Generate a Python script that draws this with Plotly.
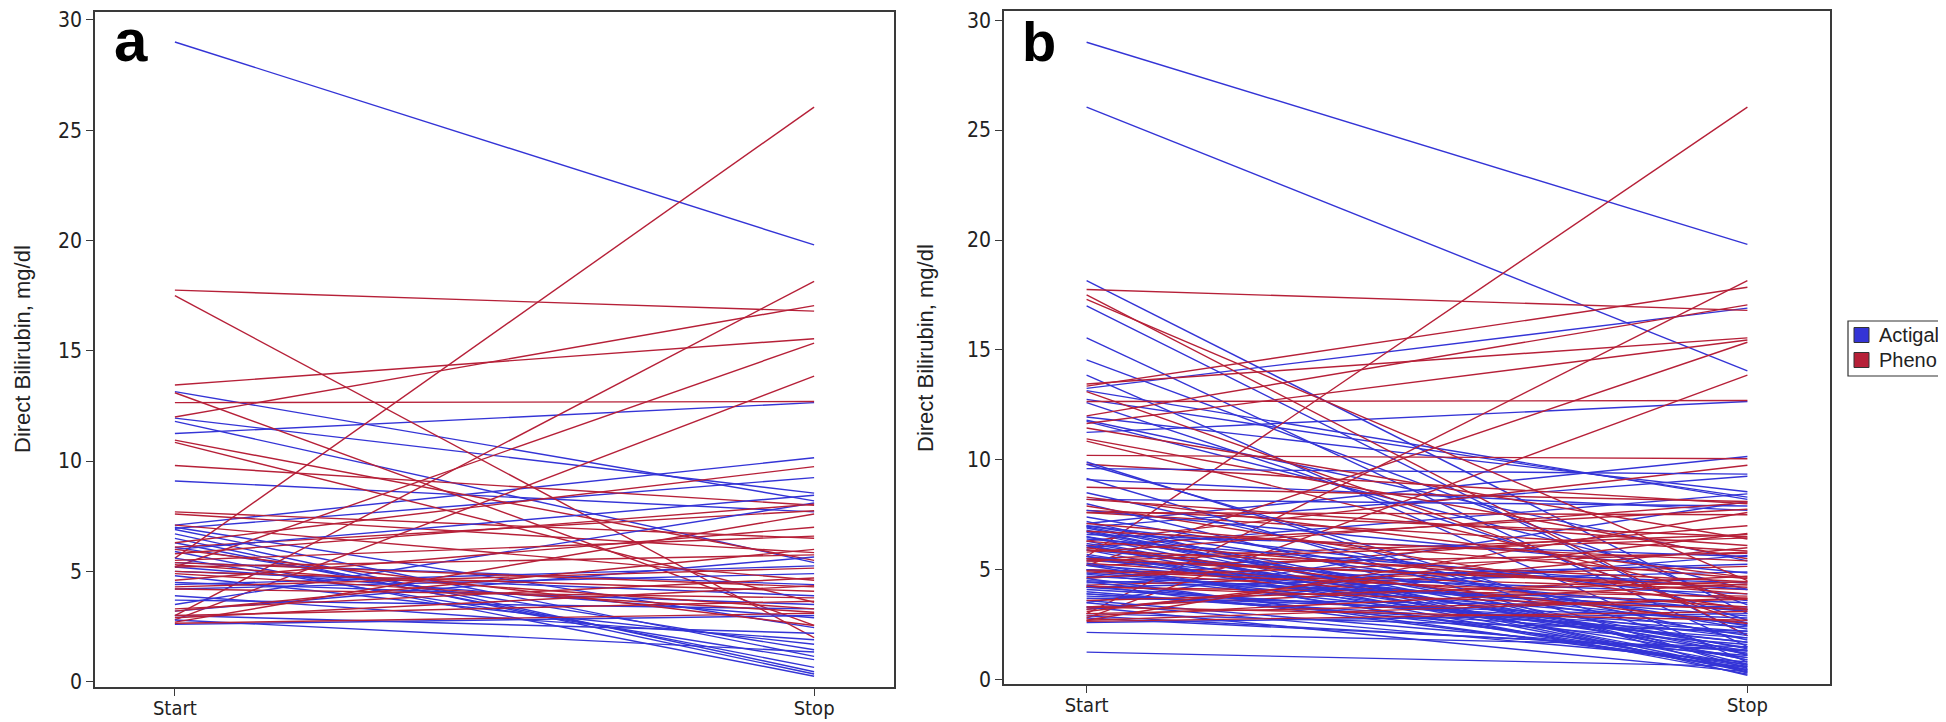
import plotly.graph_objects as go

# ---------------- data ----------------
x_categories = ["Start", "Stop"]
y_ticks = [0, 5, 10, 15, 20, 25, 30]
groups = ["Actigall", "Pheno"]

# Panel a
a_actigall_start = [29.0, 13.15, 11.95, 11.8, 11.25, 9.1, 7.1, 6.95, 7.0, 6.9, 6.7, 6.5, 6.3, 6.1,
                    5.9, 5.6, 5.4, 5.2, 5.0, 4.8, 4.5, 4.4, 4.2, 3.9, 3.7, 3.5, 3.2, 3.0, 2.8, 2.6, 6.0]
a_actigall_stop = [19.8, 8.2, 8.55, 5.4, 12.65, 7.7, 10.15, 9.25, 2.45, 1.15, 0.45, 0.35, 0.65, 1.45,
                   0.25, 1.0, 4.4, 2.9, 3.9, 1.7, 3.5, 5.25, 4.9, 1.9, 3.3, 8.1, 5.65, 2.2, 1.35, 3.0, 8.45]
a_pheno_start = [17.75, 17.5, 5.6, 13.45, 12.0, 12.65, 13.1, 3.0, 5.2, 2.8, 10.95, 10.85, 9.8, 7.7,
                 7.6, 6.3, 6.1, 5.5, 5.4, 5.3, 5.2, 5.0, 4.9, 4.6, 4.3, 4.2, 3.3, 3.2, 3.0, 2.9,
                 2.7, 2.65, 6.0, 5.8, 7.1]
a_pheno_stop = [16.8, 2.0, 26.05, 15.55, 17.05, 12.7, 2.55, 18.15, 15.35, 13.85, 5.5, 3.6, 8.0, 6.5,
                5.85, 9.75, 7.75, 6.6, 4.3, 3.3, 5.75, 4.1, 3.15, 7.0, 5.15, 3.8, 4.7, 6.0, 3.65, 4.35,
                7.6, 3.1, 2.55, 8.05, 4.6]

# Panel b = panel a subjects plus these additional subjects
b_extra_actigall_start = [26.05, 18.15, 17.0, 15.55, 14.55, 13.85, 13.25, 12.75, 12.6, 11.75, 9.9, 9.8,
                          9.6, 9.15, 8.5, 8.0, 7.4, 7.2, 6.95, 6.75, 6.5, 6.1, 5.7, 5.2, 4.85, 4.45,
                          4.0, 3.8, 3.5, 2.9, 2.15, 1.25, 6.6, 5.9, 4.2, 3.3, 8.2, 7.7, 5.5, 4.6,
                          3.6, 4.1, 4.3, 4.7, 5.0, 5.3, 5.6, 6.2, 6.4, 6.8, 7.0, 3.9]
b_extra_actigall_stop = [14.05, 3.0, 2.0, 1.5, 3.4, 0.8, 16.9, 8.3, 2.7, 4.1, 0.5, 1.1,
                         9.35, 0.3, 1.8, 0.7, 2.3, 0.2, 1.4, 0.9, 2.0, 0.4, 1.2, 0.6, 2.6, 1.0,
                         1.6, 2.8, 0.8, 1.3, 1.5, 0.6, 5.6, 3.1, 2.2, 0.35, 7.9, 4.85, 1.9, 0.55,
                         1.1, 2.4, 0.7, 3.2, 1.7, 0.45, 2.5, 1.3, 4.1, 0.9, 3.6, 2.1]
b_extra_pheno_start = [17.3, 13.35, 11.65, 11.45, 10.2, 8.75, 8.3, 8.2, 7.9, 7.6, 6.75, 6.3, 5.9, 5.4,
                       4.95, 4.65, 4.25, 3.6, 3.1, 2.7, 3.3, 5.5]
b_extra_pheno_stop = [4.5, 17.85, 15.45, 6.4, 10.05, 8.1, 4.65, 6.1, 3.2, 7.5, 5.4, 3.9, 4.45, 6.45,
                      3.7, 5.8, 3.2, 4.45, 6.65, 3.7, 2.7, 4.2]

b_actigall_start = a_actigall_start + b_extra_actigall_start
b_actigall_stop = a_actigall_stop + b_extra_actigall_stop
b_pheno_start = a_pheno_start + b_extra_pheno_start
b_pheno_stop = a_pheno_stop + b_extra_pheno_stop

# ---------------- styling ----------------
W, H = 1946, 722
BLUE = "rgb(52,52,214)"
RED = "rgb(182,32,56)"
AXIS = "#3a3a3a"
TICKFONT = "Liberation Sans Narrow, DejaVu Sans Condensed, Arial Narrow, Liberation Sans, sans-serif"
SANS = "Liberation Sans, Arial, sans-serif"


def px_x(px):
    return px / W


def px_y(py):
    return (H - py) / H


def segments(starts, stops):
    xs, ys = [], []
    for s, e in zip(starts, stops):
        xs += [0, 1, None]
        ys += [s, e, None]
    return xs, ys


fig = go.Figure()

panels = [
    ("x", "y", a_actigall_start, a_actigall_stop, a_pheno_start, a_pheno_stop),
    ("x2", "y2", b_actigall_start, b_actigall_stop, b_pheno_start, b_pheno_stop),
]
for xa, ya, bs, be, rs, re_ in panels:
    hb, hr = len(bs) // 2, len(rs) // 2
    # interleave draw order so neither colour sits entirely on top
    for (st, sp, col) in [(bs[:hb], be[:hb], BLUE), (rs[:hr], re_[:hr], RED),
                          (bs[hb:], be[hb:], BLUE), (rs[hr:], re_[hr:], RED)]:
        xs, ys = segments(st, sp)
        fig.add_trace(go.Scatter(x=xs, y=ys, mode="lines", xaxis=xa, yaxis=ya,
                                 line=dict(color=col, width=1.4), showlegend=False,
                                 hoverinfo="skip", connectgaps=False))

tickfont = dict(family=TICKFONT, size=21, color="#222")
xaxis_common = dict(range=[-0.125, 1.125], tickvals=[0, 1], ticktext=x_categories,
                    showgrid=False, zeroline=False, showline=True, linecolor=AXIS, linewidth=1.5,
                    mirror=True, ticks="outside", ticklen=7, tickcolor=AXIS, tickwidth=1.3,
                    tickfont=dict(family=TICKFONT, size=20, color="#222"),
                    ticklabeloverflow="allow", automargin=False)
yaxis_common = dict(tickvals=y_ticks, showgrid=False, zeroline=False, showline=True, linecolor=AXIS,
                    linewidth=1.5, mirror=True, ticks="outside", ticklen=7, tickcolor=AXIS,
                    tickwidth=1.3, tickfont=tickfont, ticklabeloverflow="allow", automargin=False)

fig.update_layout(
    width=W, height=H, autosize=False,
    margin=dict(l=0, r=0, t=0, b=0, pad=0),
    paper_bgcolor="white", plot_bgcolor="white",
    xaxis=dict(domain=[px_x(87), px_x(886)], anchor="y", **xaxis_common),
    yaxis=dict(domain=[px_y(679), px_y(4)], anchor="x", range=[-0.24, 30.36], **yaxis_common),
    xaxis2=dict(domain=[px_x(996), px_x(1822)], anchor="y2", **xaxis_common),
    yaxis2=dict(domain=[px_y(676), px_y(3)], anchor="x2", range=[-0.2, 30.42], **yaxis_common),
    showlegend=False,
)
# pull the Start/Stop labels a little closer to the axis so they fit in the page
try:
    fig.update_xaxes(ticklabelstandoff=-5)
except Exception:
    pass

# legend box (drawn as shapes + text)
shapes = [dict(type="rect", xref="paper", yref="paper", x0=px_x(1840), x1=px_x(1943),
               y0=px_y(368), y1=px_y(313), line=dict(color="#333", width=1.2), fillcolor="white")]
legend_rows = [(327, BLUE), (352, RED)]
for (cy, col) in legend_rows:
    shapes.append(dict(type="rect", xref="paper", yref="paper", x0=px_x(1846), x1=px_x(1861),
                       y0=px_y(cy + 7.5), y1=px_y(cy - 7.5), line=dict(color="#333", width=1),
                       fillcolor=col))

annotations = []
for name, (cy, col) in zip(groups, legend_rows):
    annotations.append(dict(text=name, x=px_x(1869), y=px_y(cy), xref="paper", yref="paper",
                            showarrow=False, xanchor="left", yanchor="middle",
                            font=dict(family=SANS, size=20, color="#222")))

annotations += [
    dict(text="Direct Bilirubin, mg/dl", x=px_x(14), y=px_y(341), xref="paper", yref="paper",
         textangle=-90, showarrow=False, font=dict(family=SANS, size=22, color="#222"),
         xanchor="center", yanchor="middle"),
    dict(text="Direct Bilirubin, mg/dl", x=px_x(918), y=px_y(340), xref="paper", yref="paper",
         textangle=-90, showarrow=False, font=dict(family=SANS, size=22, color="#222"),
         xanchor="center", yanchor="middle"),
    dict(text="<b>a</b>", x=px_x(104), y=px_y(32), xref="paper", yref="paper", showarrow=False,
         font=dict(family=SANS, size=60, color="black"), xanchor="left", yanchor="middle"),
    dict(text="<b>b</b>", x=px_x(1012), y=px_y(34), xref="paper", yref="paper", showarrow=False,
         font=dict(family=SANS, size=56, color="black"), xanchor="left", yanchor="middle"),
]
fig.update_layout(annotations=annotations, shapes=shapes)

fig.write_html("out.html")
